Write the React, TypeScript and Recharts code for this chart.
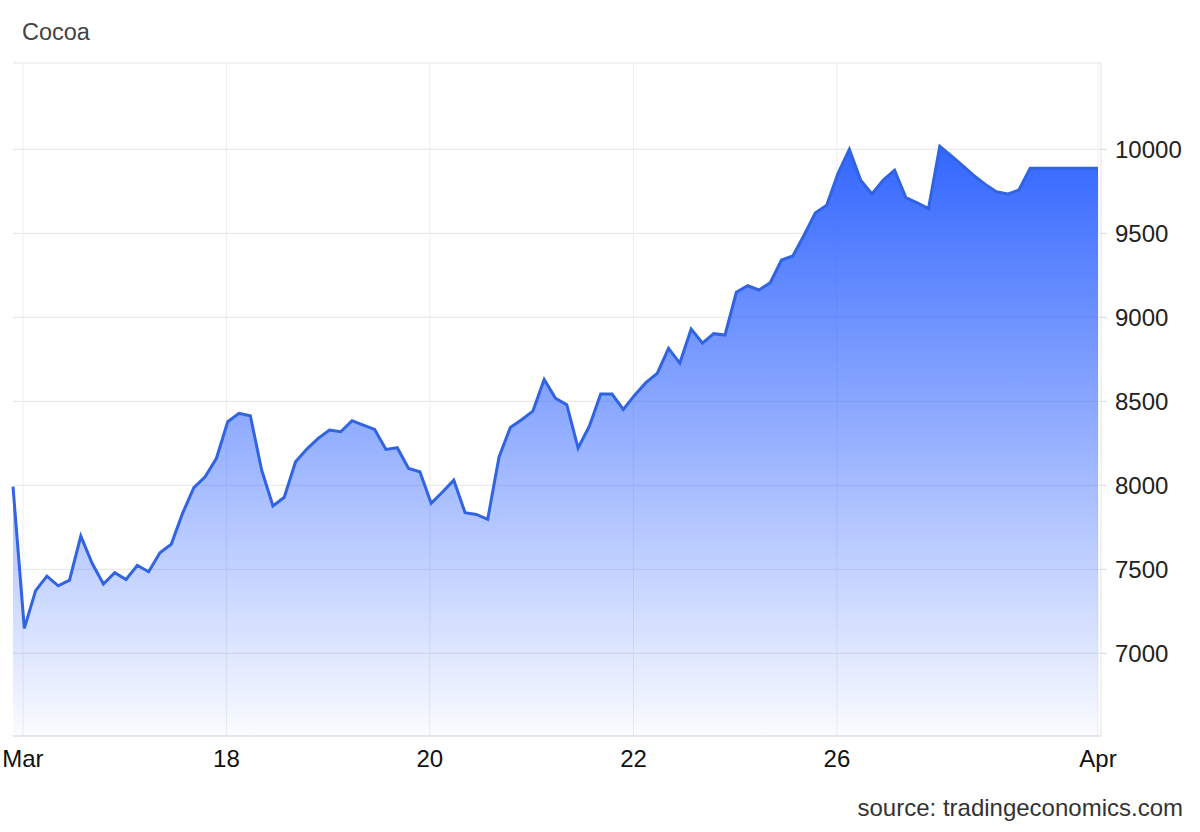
import { AreaChart, Area, XAxis, YAxis, CartesianGrid } from "recharts";

// cocoa price, one point per step (trading sessions only)
const prices = [
    7992, 7149, 7373, 7460, 7402, 7436, 7698, 7536, 7413, 7480,
    7440, 7524, 7486, 7599, 7649, 7833, 7986, 8051, 8161, 8379,
    8429, 8414, 8091, 7877, 7929, 8140, 8216, 8280, 8329, 8319,
    8385, 8359, 8333, 8214, 8224, 8101, 8081, 7893, 7960, 8031,
    7837, 7827, 7798, 8168, 8345, 8391, 8442, 8630, 8518, 8480,
    8222, 8353, 8543, 8543, 8452, 8537, 8611, 8667, 8815, 8728,
    8930, 8847, 8903, 8895, 9149, 9188, 9163, 9206, 9341, 9365,
    9490, 9623, 9668, 9857, 10000, 9817, 9734, 9817, 9875, 9713,
    9682, 9647, 10018, 9962, 9905, 9845, 9793, 9748, 9734, 9758,
    9887, 9887, 9887, 9887, 9887, 9887, 9887,
];

const tickIdx = [0.88, 18.88, 36.88, 54.9, 72.9, 96];
const tickLabels = ["Mar", "18", "20", "22", "26", "Apr"];
const yTicks = [7000, 7500, 8000, 8500, 9000, 9500, 10000];
const yDomain = [6508, 10514];
const xDomain = [0, 96];
const X_PAD_RIGHT = 3;

const FONT = '"Liberation Sans", Arial, sans-serif';

export default function App() {
    const data = prices.map((v, i) => ({ i, v }));

    // vertical grid only at the date ticks (the default one also draws the plot edges)
    const vGrid = ({ offset }: any) =>
        tickIdx.map(
            (t) =>
                offset.left +
                ((t - xDomain[0]) / (xDomain[1] - xDomain[0])) * (offset.width - X_PAD_RIGHT)
        );

    return (
        <div
            style={{
                position: "absolute",
                left: 0,
                top: 0,
                width: 1200,
                height: 832,
                background: "#fff",
                fontFamily: FONT,
            }}
        >
            {/* Title */}
            <div
                style={{
                    position: "absolute",
                    left: 22,
                    top: 19,
                    fontSize: 23.5,
                    lineHeight: "26px",
                    color: "#444",
                }}
            >
                Cocoa
            </div>

            <AreaChart
                width={1200}
                height={832}
                data={data}
                margin={{ top: 63, right: 0, bottom: 56, left: 13 }}
            >
                <defs>
                    <linearGradient id="cocoaFill" x1="0" y1="0" x2="0" y2="1">
                        <stop offset="0%" stopColor="#3366ff" stopOpacity={1} />
                        <stop offset="100%" stopColor="#3366ff" stopOpacity={0.02} />
                    </linearGradient>
                </defs>
                <CartesianGrid stroke="#e6e6e6" vertical={false} />
                <CartesianGrid
                    stroke="#eaedf1"
                    horizontal={false}
                    verticalCoordinatesGenerator={vGrid}
                />
                <XAxis
                    type="number"
                    dataKey="i"
                    domain={xDomain}
                    ticks={tickIdx}
                    interval={0}
                    tickFormatter={(t: number) => tickLabels[tickIdx.indexOf(t)] ?? ""}
                    padding={{ left: 0, right: X_PAD_RIGHT }}
                    height={40}
                    axisLine={{ stroke: "#dcdcdc" }}
                    tickLine={false}
                    tickSize={0}
                    tickMargin={14}
                    tick={{ fontSize: 24, fill: "#111", fontFamily: FONT }}
                />
                <YAxis
                    orientation="right"
                    domain={yDomain}
                    ticks={yTicks}
                    width={99}
                    axisLine={{ stroke: "#e4e4e4" }}
                    tickLine={{ stroke: "#d8d8d8" }}
                    tickSize={6}
                    tickMargin={8}
                    tick={{ fontSize: 24, fill: "#222", fontFamily: FONT }}
                />
                <Area
                    type="linear"
                    dataKey="v"
                    stroke="#3064e3"
                    strokeWidth={3}
                    fill="url(#cocoaFill)"
                    fillOpacity={1}
                    dot={false}
                    activeDot={false}
                    isAnimationActive={false}
                />
            </AreaChart>

            {/* Source */}
            <div
                style={{
                    position: "absolute",
                    right: 17,
                    top: 795,
                    fontSize: 24,
                    lineHeight: "26px",
                    color: "#333",
                }}
            >
                source: tradingeconomics.com
            </div>
        </div>
    );
}
